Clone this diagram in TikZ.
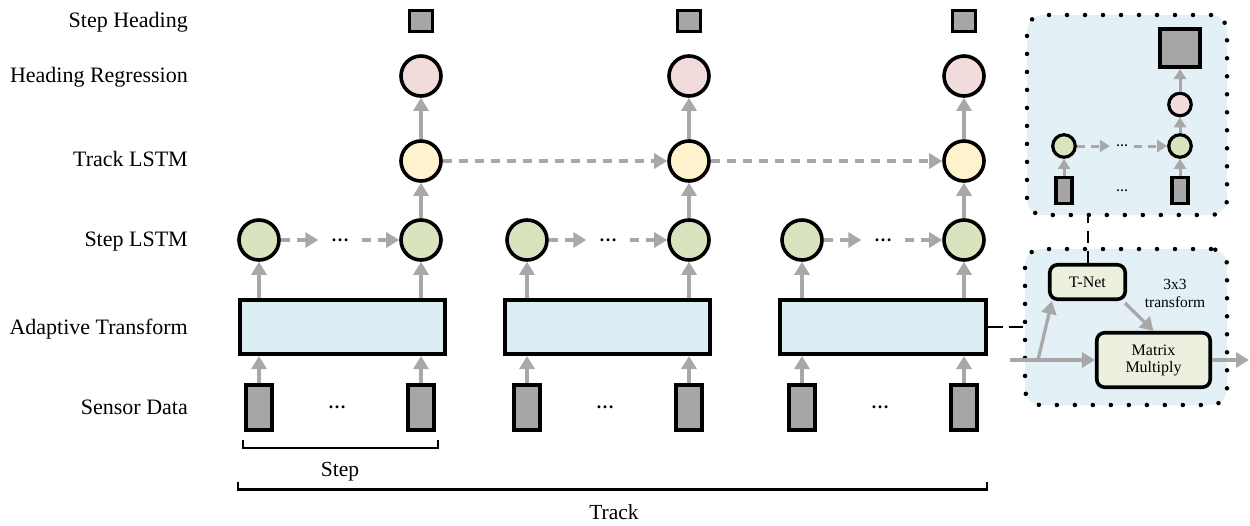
\documentclass[tikz,border=0pt]{standalone}
\usepackage{fontspec}
\setmainfont{Liberation Serif}
\usetikzlibrary{arrows.meta}

\definecolor{stepgreen}{HTML}{D7E4BD}
\definecolor{trackyellow}{HTML}{FFF2CC}
\definecolor{regpink}{HTML}{F2DCDB}
\definecolor{boxblue}{HTML}{DBEEF4}
\definecolor{sensorgray}{HTML}{A6A6A6}
\definecolor{flowgray}{HTML}{A8A8A8}
\definecolor{panelblue}{HTML}{E3F0F5}
\definecolor{opgreen}{HTML}{EBF1DE}

\tikzset{
  rowlabel/.style={font=\fontsize{22}{24}\selectfont, anchor=base east, inner sep=0pt},
  spanlabel/.style={font=\fontsize{21.5}{24}\selectfont, anchor=base, inner sep=0pt},
  cell/.style={circle, draw=black, line width=3.6pt, minimum size=40pt, inner sep=0pt},
  minicell/.style={circle, draw=black, line width=3.2pt, minimum size=22.5pt, inner sep=0pt},
  sensor/.style={rectangle, draw=black, line width=3.6pt, fill=sensorgray, minimum width=26.5pt, minimum height=45.5pt, inner sep=0pt},
  minisensor/.style={rectangle, draw=black, line width=3.2pt, fill=sensorgray, minimum width=16pt, minimum height=26pt, inner sep=0pt},
  headsq/.style={rectangle, draw=black, line width=3.2pt, fill=sensorgray, minimum width=22.5pt, minimum height=20.5pt, inner sep=0pt},
  bigsq/.style={rectangle, draw=black, line width=3.6pt, fill=sensorgray, minimum width=40.5pt, minimum height=38.5pt, inner sep=0pt},
  atbox/.style={rectangle, draw=black, line width=3.6pt, fill=boxblue, minimum width=205.5pt, minimum height=54.5pt, inner sep=0pt},
  opbox/.style={rectangle, draw=black, line width=3.6pt, fill=opgreen, rounded corners=8pt, inner sep=0pt, align=center, font=\fontsize{16}{18}\selectfont},
  panel/.style={rectangle, draw=black, fill=panelblue, rounded corners=16pt, line width=4.5pt, dash pattern=on 0pt off 18pt, line cap=round, inner sep=0pt},
  ellip/.style={font=\bfseries\fontsize{18}{18}\selectfont, inner sep=0pt},
  miniellip/.style={font=\bfseries\fontsize{12}{12}\selectfont, inner sep=0pt},
  flow/.style={draw=flowgray, line width=3.3pt, -{Triangle[width=15pt,length=13pt]}},
  dflow/.style={flow, dash pattern=on 9pt off 7pt},
  miniflow/.style={draw=flowgray, line width=3pt, -{Triangle[width=12pt,length=10pt]}},
  dminiflow/.style={miniflow, dash pattern=on 8pt off 6pt},
  link/.style={draw=black, line width=2pt},
}

\begin{document}
\begin{tikzpicture}[x=1pt, y=-1pt]
\useasboundingbox (0,0) rectangle (1250,525);

% row labels
\node[rowlabel] (lsh) at (188,27.5) {Step Heading};
\node[rowlabel] (lhr) at (188,82.5) {Heading Regression};
\node[rowlabel] (ltl) at (188,166.5) {Track LSTM};
\node[rowlabel] (lsl) at (188,246.5) {Step LSTM};
\node[rowlabel] (lat) at (188,334) {Adaptive Transform};
\node[rowlabel] (lsd) at (188,414.5) {Sensor Data};

% three steps of the track
\foreach \g/\L/\R/\B in {1/259/421/342.5, 2/527/689/607.5, 3/802/964/883} {
  \pgfmathsetmacro\M{(\L+\R)/2}
  \node[sensor] (sa\g) at (\L,407.5) {};
  \node[sensor] (sb\g) at (\R,407.5) {};
  \node[ellip] (sd\g) at (\M-3,407) {…};
  \node[atbox] (at\g) at (\B,327) {};
  \node[cell, fill=stepgreen] (pa\g) at (\L,240) {};
  \node[cell, fill=stepgreen] (pb\g) at (\R,240) {};
  \node[ellip, minimum width=43pt] (pd\g) at (\M,240) {…};
  \node[cell, fill=trackyellow] (tr\g) at (\R,161) {};
  \node[cell, fill=regpink] (hr\g) at (\R,76) {};
  \node[headsq] (hs\g) at (\R,21) {};
  \draw[flow] (sa\g.north) -- (sa\g.north |- at\g.south);
  \draw[flow] (sb\g.north) -- (sb\g.north |- at\g.south);
  \draw[flow] (pa\g |- at\g.north) -- (pa\g);
  \draw[flow] (pb\g |- at\g.north) -- (pb\g);
  \draw[dflow] (pa\g) -- (pd\g.west);
  \draw[dflow] (pd\g.east) -- (pb\g);
  \draw[flow] (pb\g) -- (tr\g);
  \draw[flow] (tr\g) -- (hr\g);
}
\draw[dflow] (tr1) -- (tr2);
\draw[dflow] (tr2) -- (tr3);

% step and track brackets
\draw[line width=2.4pt] (243,440) -- (243,448) -- (438,448) -- (438,440);
\node[spanlabel] (lstep) at (340,476) {Step};
\draw[line width=2.4pt] (238,482) -- (238,489.5) -- (987,489.5) -- (987,482);
\node[spanlabel] (ltrack) at (614,519) {Track};

% detail: heading regression from a step
\node[panel, minimum width=200pt, minimum height=200pt] (tp) at (1127,115) {};
\node[minisensor] (ia) at (1064,190.5) {};
\node[minisensor] (ib) at (1180,190.5) {};
\node[miniellip] (iz) at (1122,191) {…};
\node[minicell, fill=stepgreen] (ic) at (1064,146) {};
\node[minicell, fill=stepgreen] (id) at (1180,146) {};
\node[miniellip, minimum width=24pt] (ie) at (1122,146) {…};
\node[minicell, fill=regpink] (if) at (1180,104.5) {};
\node[bigsq] (ig) at (1180,48) {};
\draw[miniflow] (ia) -- (ic);
\draw[miniflow] (ib) -- (id);
\draw[dminiflow] (ic) -- (ie.west);
\draw[dminiflow] (ie.east) -- (id);
\draw[miniflow] (id) -- (if);
\draw[miniflow] (if) -- (ig);

% detail: adaptive transform
\node[panel, minimum width=202pt, minimum height=156pt] (bp) at (1126,327) {};
\node[opbox, minimum width=75.5pt, minimum height=34.5pt] (tnet) at (1087.5,282) {T-Net};
\node[opbox, minimum width=113.5pt, minimum height=54.5pt] (mm) at (1153.5,360) {Matrix\\[-1pt]Multiply};
\node[align=center, inner sep=0pt, font=\fontsize{15.5}{18}\selectfont] (tf) at (1175,293) {3x3\\transform};
\coordinate (in) at (1010,360);
\coordinate (br) at (1038,360);
\coordinate (out) at (1249,360);
\draw[draw=flowgray, line width=3.3pt] (in) -- (br);
\draw[flow] (br) -- (mm);
\draw[flow] (br) -- ([xshift=4pt]tnet.south west);
\draw[flow] ([xshift=-2pt,yshift=-2pt]tnet.south east) -- (mm.north);
\draw[flow] (mm) -- (out);

% links from the overview to the details
\draw[link, dash pattern=on 15pt off 6pt] (at3.east) -- (at3.east -| bp.west);
\draw[link, dash pattern=on 12pt off 8pt] (tnet.north) -- (tnet.north |- tp.south);
\end{tikzpicture}
\end{document}
